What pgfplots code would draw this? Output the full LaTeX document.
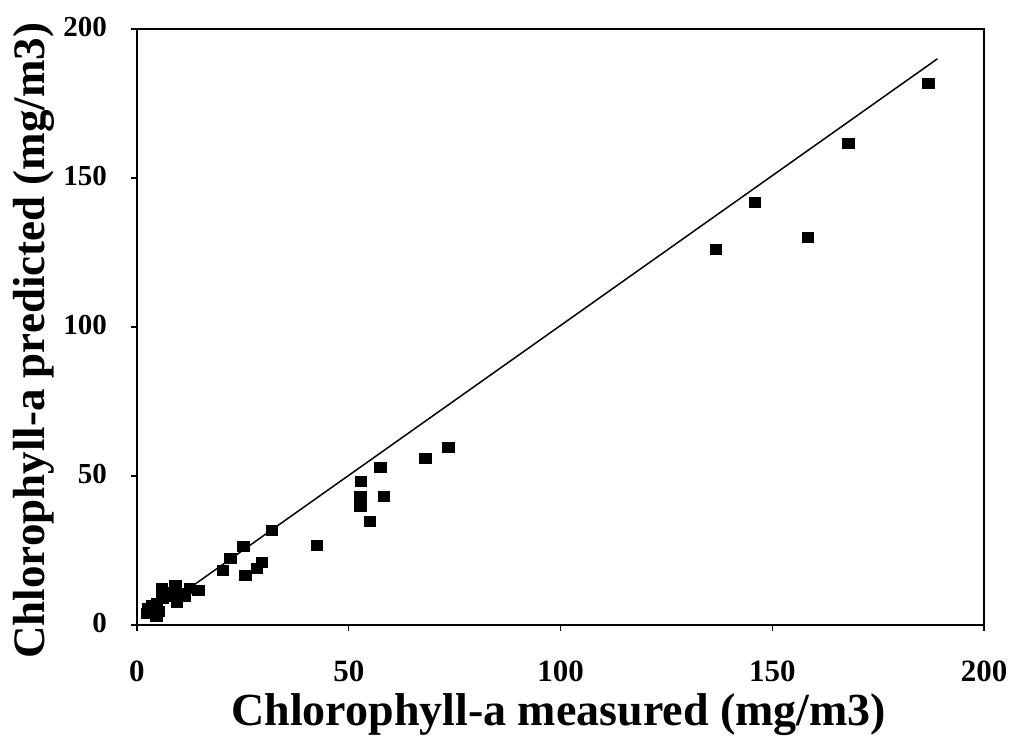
\documentclass[border=0pt]{standalone}
\usepackage{fontspec}
\setmainfont{Liberation Serif}
\usepackage{pgfplots}
\pgfplotsset{compat=1.18}
\begin{document}
\begin{tikzpicture}
\begin{axis}[
  scale only axis,
  width=847pt, height=596pt,
  xmin=0, xmax=200, ymin=0, ymax=200,
  xtick={0,50,100,150,200}, ytick={0,50,100,150,200},
  xtick pos=bottom, ytick pos=left,
  tick align=outside, major tick length=6pt,
  tick style={black, line width=1.2pt},
  axis line style={line width=1.8pt},
  /pgf/number format/assume math mode=true,
  yticklabel style={font=\fontsize{29}{30}\selectfont\bfseries, anchor=east, inner sep=0pt, xshift=-24pt, yshift=2pt},
  xticklabel style={font=\fontsize{31}{32}\selectfont\bfseries, anchor=north, inner sep=0pt, yshift=-30pt},
  xlabel={Chlorophyll-a measured (mg/m3)},
  ylabel={Chlorophyll-a predicted (mg/m3)},
  xlabel style={font=\fontsize{46}{50}\selectfont\bfseries, at={(axis description cs:0.498,-0.15)}, anchor=center},
  ylabel style={font=\fontsize{45}{48}\selectfont\bfseries, at={(axis description cs:-0.122,0.477)}, anchor=center, rotate=0},
  clip=false,
]
\addplot[black, line width=1.5pt] coordinates {(12,12) (189,190)};
\addplot[only marks, mark=square*, mark size=5pt, mark options={fill=black, draw=black, xscale=1.15}] coordinates {
(186.8,181.9) (167.9,161.7) (145.9,141.9) (158.4,130.2) (136.7,126.2)
(73.5,59.8) (68.0,55.9) (57.4,53.1) (52.8,48.1) (52.7,43.1) (52.7,39.7)
(58.3,43.3) (55.0,34.7) (42.4,26.8) (31.8,31.9) (25.1,26.3) (22.0,22.4)
(20.2,18.5) (29.4,21.2) (28.3,19.0) (25.5,16.8) (14.5,11.7) (12.5,12.3)
(11.3,9.5) (9.0,13.4) (9.0,9.5) (5.8,12.3) (4.7,7.3) (2.7,5.6) (5.0,4.5)
(2.3,3.9) (9.4,7.8) (10.9,10.6) (4.5,2.8) (6.0,9.0) (3.5,6.5) (8.5,11.0)
};
\end{axis}
\pgfresetboundingbox
\path ([xshift=-137pt,yshift=-116pt]current axis.south west) rectangle ([xshift=25pt,yshift=29pt]current axis.north east);
\end{tikzpicture}
\end{document}
